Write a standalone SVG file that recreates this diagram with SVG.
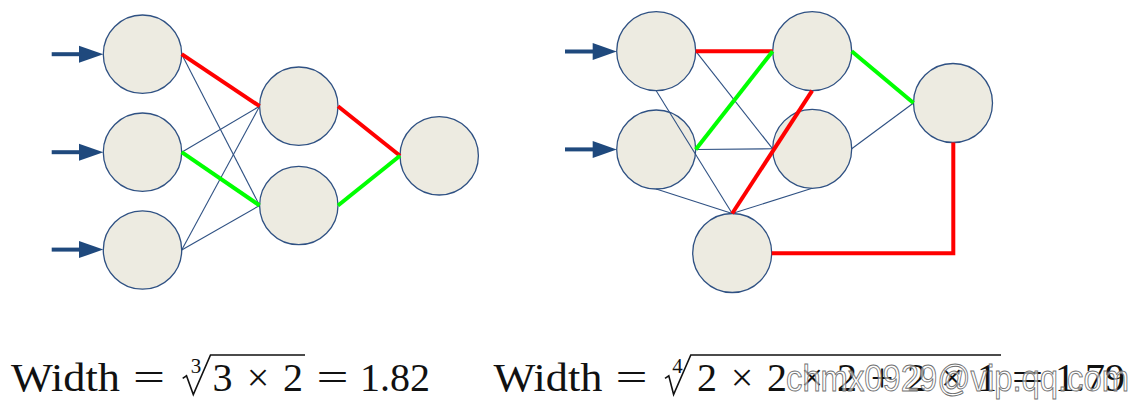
<svg xmlns="http://www.w3.org/2000/svg" width="1132" height="414" viewBox="0 0 1132 414">
<defs>
<style>
.node{fill:#EDEBE1;stroke:#2F5183;stroke-width:1.3}
.thin{stroke:#2F5183;stroke-width:1.1;fill:none}
.red{stroke:#FF0000;stroke-width:4;fill:none}
.green{stroke:#00FF00;stroke-width:4;fill:none}
.shaft{stroke:#1F497D;stroke-width:4}
.head{fill:#1F497D}
.f{font-family:"Liberation Serif","DejaVu Serif",serif;font-size:40px;fill:#111}
.idx{font-family:"Liberation Serif","DejaVu Serif",serif;font-size:21px;fill:#111}
.rad{stroke:#111;stroke-width:1.6;fill:none;stroke-linejoin:miter}
.wm{font-family:"Liberation Sans","DejaVu Sans",sans-serif;font-size:36px;fill:#fff;fill-opacity:0.6;stroke:#707070;stroke-width:0.9}
</style>
</defs>

<g id="left-net">
  <g id="L1"><circle class="node" cx="142.5" cy="54.2" r="39.2"/></g>
  <g id="L2"><circle class="node" cx="142.5" cy="152.2" r="39.2"/></g>
  <g id="L3"><circle class="node" cx="142.5" cy="250" r="39.2"/></g>
  <g id="H1"><circle class="node" cx="298.8" cy="106.2" r="39.2"/></g>
  <g id="H2"><circle class="node" cx="298.8" cy="205.5" r="39.2"/></g>
  <g id="LOut"><circle class="node" cx="439.2" cy="155.8" r="39.2"/></g>
</g>

<g id="right-net">
  <g id="A1"><circle class="node" cx="656.2" cy="51.2" r="39.5"/></g>
  <g id="A2"><circle class="node" cx="656.2" cy="149.5" r="39.5"/></g>
  <g id="B1"><circle class="node" cx="812.2" cy="51.2" r="39.5"/></g>
  <g id="B2"><circle class="node" cx="812.2" cy="148.8" r="39.5"/></g>
  <g id="C"><circle class="node" cx="732.2" cy="253" r="39.5"/></g>
  <g id="ROut"><circle class="node" cx="953" cy="103" r="39.5"/></g>
</g>

<g id="connectors">
  <!-- left input arrows -->
  <line class="shaft" x1="51.7" y1="54.2" x2="81" y2="54.2"/>
  <polygon class="head" points="79,45.7 103.3,54.2 79,62.7"/>
  <line class="shaft" x1="51.7" y1="152.2" x2="81" y2="152.2"/>
  <polygon class="head" points="79,143.7 103.3,152.2 79,160.7"/>
  <line class="shaft" x1="51.7" y1="249.6" x2="81" y2="249.6"/>
  <polygon class="head" points="79,241.1 103.3,249.6 79,258.1"/>

  <!-- left edges -->
  <line class="thin" x1="181.7" y1="54.2" x2="259.6" y2="205.5"/>
  <line class="thin" x1="181.7" y1="152.2" x2="259.6" y2="106.2"/>
  <line class="thin" x1="181.7" y1="250" x2="259.6" y2="106.2"/>
  <line class="thin" x1="181.7" y1="250" x2="259.6" y2="205.5"/>
  <line class="red" x1="181.7" y1="54.2" x2="259.6" y2="106.2"/>
  <line class="green" x1="181.7" y1="152.2" x2="259.6" y2="205.5"/>
  <line class="red" x1="338" y1="106.2" x2="400" y2="155.8"/>
  <line class="green" x1="338" y1="205.5" x2="400" y2="155.8"/>

  <!-- right input arrows -->
  <line class="shaft" x1="565" y1="51.5" x2="595" y2="51.5"/>
  <polygon class="head" points="592.7,43 616.7,51.5 592.7,60"/>
  <line class="shaft" x1="565" y1="149.4" x2="595" y2="149.4"/>
  <polygon class="head" points="592.7,140.9 616.7,149.4 592.7,157.9"/>

  <!-- right edges -->
  <line class="thin" x1="695.7" y1="51.2" x2="772.7" y2="148.8"/>
  <line class="thin" x1="656.2" y1="90.7" x2="732.2" y2="213.5"/>
  <line class="thin" x1="695.7" y1="149.5" x2="772.7" y2="148.8"/>
  <line class="thin" x1="656.2" y1="189" x2="732.2" y2="213.5"/>
  <line class="thin" x1="812.2" y1="188.3" x2="732.2" y2="213.5"/>
  <line class="thin" x1="851.7" y1="148.8" x2="913.5" y2="103"/>
  <line class="red" x1="695.7" y1="51.2" x2="772.7" y2="51.2"/>
  <line class="green" x1="695.7" y1="149.5" x2="772.7" y2="51.2"/>
  <line class="red" x1="812.2" y1="90.7" x2="732.2" y2="213.5"/>
  <line class="green" x1="851.7" y1="51.2" x2="913.5" y2="103"/>
  <polyline class="red" points="771.7,253.3 953.3,253.3 953.3,142.5"/>
</g>

<g id="formula-left">
  <text class="f" x="11" y="391" textLength="109" lengthAdjust="spacingAndGlyphs">Width</text>
  <text class="f" x="149" y="391" text-anchor="middle" textLength="32" lengthAdjust="spacingAndGlyphs">=</text>
  <text class="idx" x="196" y="373" text-anchor="middle">3</text>
  <path class="rad" d="M182.7 378.3 L186.5 375.8 L193.3 394.5 L210.5 355 L305 355"/>
  <text class="f" x="222.5" y="391" text-anchor="middle">3</text>
  <text class="f" x="258" y="391" text-anchor="middle">×</text>
  <text class="f" x="293" y="391" text-anchor="middle">2</text>
  <text class="f" x="332.5" y="391" text-anchor="middle" textLength="32" lengthAdjust="spacingAndGlyphs">=</text>
  <text class="f" x="395" y="391" text-anchor="middle">1.82</text>
</g>

<g id="formula-right">
  <text class="f" x="493.5" y="391" textLength="109" lengthAdjust="spacingAndGlyphs">Width</text>
  <text class="f" x="631.5" y="391" text-anchor="middle" textLength="32" lengthAdjust="spacingAndGlyphs">=</text>
  <text class="idx" x="677.5" y="373" text-anchor="middle">4</text>
  <path class="rad" d="M665 378.3 L668.8 375.8 L673.6 394.5 L690.8 355 L1001 355"/>
  <text class="f" x="707" y="391" text-anchor="middle">2</text>
  <text class="f" x="742" y="391" text-anchor="middle">×</text>
  <text class="f" x="777" y="391" text-anchor="middle">2</text>
  <text class="f" x="812" y="391" text-anchor="middle">×</text>
  <text class="f" x="847" y="391" text-anchor="middle">2</text>
  <text class="f" x="882" y="391" text-anchor="middle">+</text>
  <text class="f" x="917" y="391" text-anchor="middle">2</text>
  <text class="f" x="952" y="391" text-anchor="middle">×</text>
  <text class="f" x="987" y="391" text-anchor="middle">1</text>
  <text class="f" x="1027.5" y="391" text-anchor="middle" textLength="32" lengthAdjust="spacingAndGlyphs">=</text>
  <text class="f" x="1090" y="391" text-anchor="middle">1.79</text>
</g>

<text class="wm" x="786" y="391" textLength="343" lengthAdjust="spacingAndGlyphs">chmx0929@vip.qq.com</text>
</svg>
